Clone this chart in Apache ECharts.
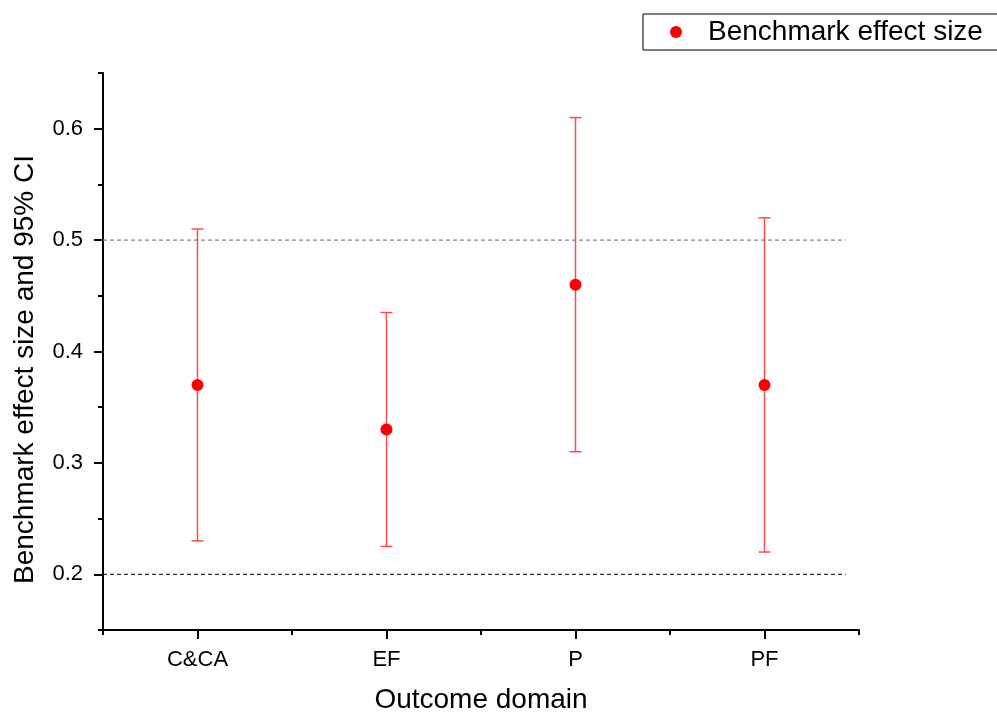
<!DOCTYPE html>
<html>
<head>
<meta charset="utf-8">
<script src="https://cdn.jsdelivr.net/npm/echarts@6/dist/echarts.min.js"></script>
<style>
  html, body { margin: 0; padding: 0; background: #fff; }
  #chart { width: 997px; height: 713px; }
</style>
</head>
<body>
<div id="chart"></div>
<script>
// data
var categories = ["C&CA", "EF", "P", "PF"];
var xPos = [1, 2, 3, 4];
var effect = [0.37, 0.33, 0.46, 0.37];
var ciLow = [0.23, 0.225, 0.31, 0.22];
var ciHigh = [0.51, 0.435, 0.61, 0.52];

var yMajor = [0.2, 0.3, 0.4, 0.5, 0.6];
var yMinor = [0.15, 0.25, 0.35, 0.45, 0.55, 0.65];
var xMinor = [0.5, 1.5, 2.5, 3.5, 4.5];

var refUpper = 0.5;
var refLower = 0.2;
var refSpan = [0.5, 4.43];

var font = "'Liberation Sans', Arial, sans-serif";

var pointData = [];
var barData = [];
for (var i = 0; i < xPos.length; i++) {
  pointData.push([xPos[i], effect[i]]);
  barData.push([xPos[i], ciLow[i], ciHigh[i]]);
}

function renderBar(params, api) {
  var x = api.value(0);
  var top = api.coord([x, api.value(2)]);
  var bot = api.coord([x, api.value(1)]);
  var hw = 6;
  var st = { stroke: "#ff4a4a", lineWidth: 1.5 };
  return {
    type: "group",
    children: [
      { type: "line", shape: { x1: top[0], y1: top[1], x2: bot[0], y2: bot[1] }, style: st },
      { type: "line", shape: { x1: top[0] - hw, y1: top[1], x2: top[0] + hw, y2: top[1] }, style: st },
      { type: "line", shape: { x1: bot[0] - hw, y1: bot[1], x2: bot[0] + hw, y2: bot[1] }, style: st }
    ]
  };
}

var myChart = echarts.init(document.getElementById("chart"));
var option = {
  backgroundColor: "#FFFFFF",
  animation: false,
  textStyle: { fontFamily: font },
  grid: { left: 103, right: 138, top: 73, bottom: 83, outerBoundsMode: "none", containLabel: false },
  legend: {
    data: ["Benchmark effect size"],
    left: 643,
    top: 14,
    padding: [4, 20, 4, 27],
    borderColor: "#000",
    borderWidth: 1,
    icon: "circle",
    itemWidth: 12,
    itemHeight: 12,
    textStyle: { fontSize: 28, color: "#000", fontFamily: font, lineHeight: 28, padding: [0, 0, 0, 21] }
  },
  xAxis: [
    {
      type: "value",
      position: "bottom",
      min: 0.5,
      max: 4.5,
      name: "Outcome domain",
      nameLocation: "middle",
      nameGap: 56,
      nameTextStyle: { fontSize: 28, color: "#000", fontFamily: font },
      axisLine: { lineStyle: { color: "#000", width: 2 } },
      axisTick: { customValues: xPos, length: 9, lineStyle: { color: "#000", width: 2 } },
      axisLabel: {
        customValues: xPos,
        fontSize: 22,
        color: "#000",
        margin: 19,
        formatter: function (v) { return categories[Math.round(v) - 1]; }
      },
      splitLine: { show: false }
    },
    {
      type: "value",
      position: "bottom",
      min: 0.5,
      max: 4.5,
      axisLine: { show: false },
      axisTick: { customValues: xMinor, length: 5, lineStyle: { color: "#000", width: 2 } },
      axisLabel: { show: false },
      splitLine: { show: false }
    }
  ],
  yAxis: [
    {
      type: "value",
      position: "left",
      min: 0.15,
      max: 0.65,
      name: "Benchmark effect size and 95% CI",
      nameLocation: "middle",
      nameGap: 64,
      nameTextStyle: { fontSize: 28, color: "#000", fontFamily: font, padding: [0, 36, 0, 0] },
      axisLine: { show: true, lineStyle: { color: "#000", width: 2 } },
      axisTick: { show: true, customValues: yMajor, length: 9, lineStyle: { color: "#000", width: 2 } },
      axisLabel: {
        customValues: yMajor,
        fontSize: 22,
        color: "#000",
        margin: 20,
        formatter: function (v) { return v.toFixed(1); }
      },
      splitLine: { show: false }
    },
    {
      type: "value",
      position: "left",
      min: 0.15,
      max: 0.65,
      axisLine: { show: false },
      axisTick: { show: true, customValues: yMinor, length: 5, lineStyle: { color: "#000", width: 2 } },
      axisLabel: { show: false },
      splitLine: { show: false }
    }
  ],
  series: [
    {
      name: "ref upper",
      type: "line",
      symbol: "none",
      silent: true,
      data: [[refSpan[0], refUpper], [refSpan[1], refUpper]],
      lineStyle: { color: "#666", width: 1, type: [4, 3] }
    },
    {
      name: "ref lower",
      type: "line",
      symbol: "none",
      silent: true,
      data: [[refSpan[0], refLower], [refSpan[1], refLower]],
      lineStyle: { color: "#000", width: 1, type: [4, 3] }
    },
    {
      name: "CI",
      type: "custom",
      renderItem: renderBar,
      encode: { x: 0, y: [1, 2] },
      data: barData,
      z: 3
    },
    {
      name: "Benchmark effect size",
      type: "scatter",
      symbol: "circle",
      symbolSize: 12,
      itemStyle: { color: "#ff0000", opacity: 1 },
      data: pointData,
      z: 4
    }
  ]
};
myChart.setOption(option);
</script>
</body>
</html>
